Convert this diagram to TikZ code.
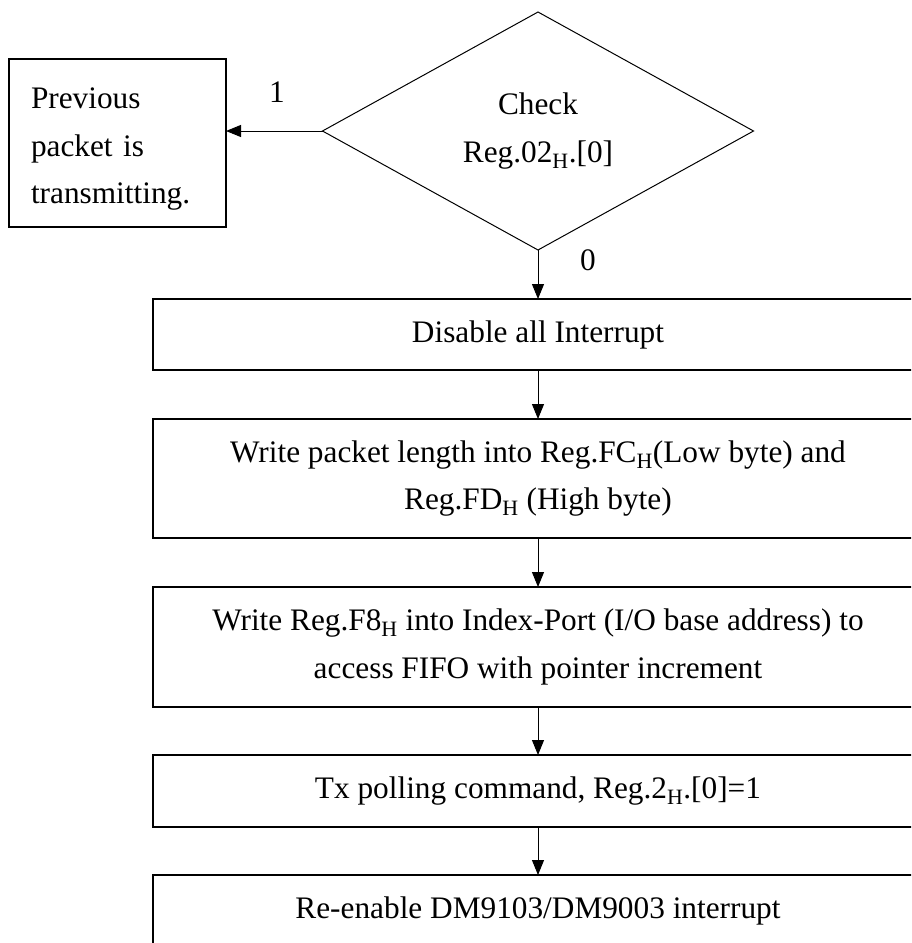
\documentclass[tikz,border=0pt]{standalone}
\usepackage{fontspec}
\setmainfont{Liberation Serif}
\usetikzlibrary{shapes.geometric,arrows.meta}
\newcommand{\hsub}{\textsubscript{H}}
\begin{document}
\begin{tikzpicture}[x=1pt,y=-1pt,
  every node/.style={font=\fontsize{31.3}{47.5}\selectfont},
  box/.style={draw, line width=1.3pt, rectangle, minimum width=770pt, inner sep=0pt, outer sep=0pt, align=center},
  decision/.style={diamond, draw, line width=1pt, minimum width=431pt, minimum height=238pt, aspect=1.81, inner sep=0pt, outer sep=0pt, align=center},
  sidebox/.style={draw, line width=1.3pt, rectangle, minimum width=217pt, minimum height=168pt, text width=173pt, align=left, inner sep=0pt, outer sep=0pt},
  arr/.style={line width=1pt, -{Triangle[length=15pt,width=12pt]}},
  lbl/.style={inner sep=0pt}]
\useasboundingbox (0,0) rectangle (911,943);
\clip (0,0) rectangle (911,943);
\fill[white] (0,0) rectangle (911,943);
\node[decision] (chk) at (538,131) {Check\\Reg.02\hsub.[0]};
\node[sidebox] (prev) at (117.5,143) {\rule{0pt}{33pt}Previous\\packet is\\transmitting.};
\node[box, minimum height=71pt] (b1) at (538,334.5) {Disable all Interrupt};
\node[box, minimum height=119pt] (b2) at (538,478.5) {Write packet length into Reg.FC\hsub(Low byte) and\\Reg.FD\hsub\ (High byte)};
\node[box, minimum height=120pt] (b3) at (538,647) {Write Reg.F8\hsub\ into Index-Port (I/O base address) to\\access FIFO with pointer increment};
\node[box, minimum height=72pt] (b4) at (538,791) {Tx polling command, Reg.2\hsub.[0]=1};
\node[box, minimum height=71pt] (b5) at (538,910.5) {Re-enable DM9103/DM9003 interrupt};
\node[lbl] (one) at (277,92.5) {1};
\node[lbl] (zero) at (588,260.5) {0};
\draw[arr] (chk.west) -- (chk.west -| prev.east);
\draw[arr] (chk.south) -- (b1.north);
\draw[arr] (b1.south) -- (b2.north);
\draw[arr] (b2.south) -- (b3.north);
\draw[arr] (b3.south) -- (b4.north);
\draw[arr] (b4.south) -- (b5.north);
\end{tikzpicture}
\end{document}
